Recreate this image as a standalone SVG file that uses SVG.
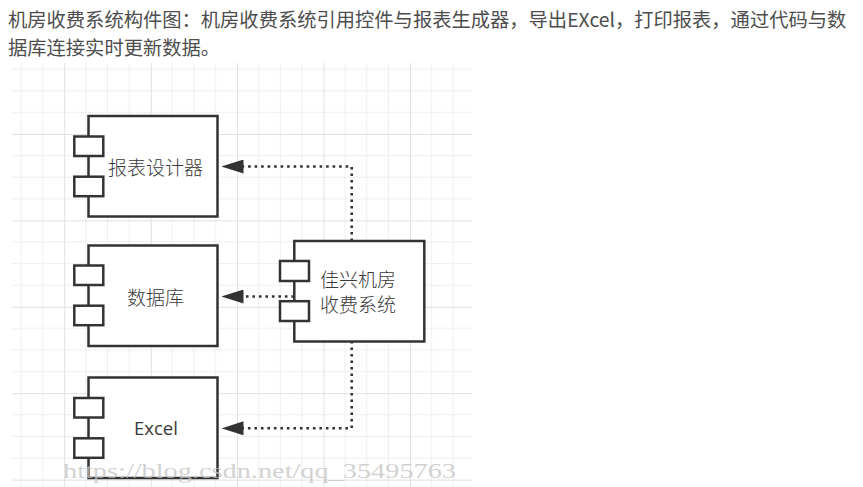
<svg xmlns="http://www.w3.org/2000/svg" width="863" height="487" viewBox="0 0 863 487">
<defs>
<style>
.hd{font-family:"Noto Sans CJK SC","Noto Sans",sans-serif;font-size:19.3px;fill:#4d4d4d}
.lb{font-family:"Noto Sans CJK SC","Noto Sans",sans-serif;font-size:19px;font-weight:300;fill:#3a3a3a;text-anchor:middle}
.lbl{font-family:"Open Sans","Noto Sans",sans-serif;font-size:18.5px;fill:#3a3a3a;text-anchor:middle}
.box{fill:#fff;stroke:#333;stroke-width:2.5}
.dot{fill:none;stroke:#333;stroke-width:2.6;stroke-dasharray:2.6 3.9}
.wm{font-family:"Liberation Serif",serif;font-size:22px;fill:#c4c4c4;opacity:0.75}
</style>
<pattern id="grid" patternUnits="userSpaceOnUse" x="64.3" y="134" width="86.4" height="86.4">
<path d="M21.6 0V86.4M43.2 0V86.4M64.8 0V86.4M0 21.6H86.4M0 43.2H86.4M0 64.8H86.4" stroke="#eeeeee" stroke-width="1" fill="none"/>
<path d="M0.5 0V86.4M0 0.5H86.4" stroke="#e0e0e0" stroke-width="1" fill="none"/>
</pattern>
<marker id="arr" viewBox="0 0 22 14" refX="22" refY="7" markerWidth="22" markerHeight="14" markerUnits="userSpaceOnUse" orient="auto">
<path d="M0 0L22 7L0 14Z" fill="#333"/>
</marker>
</defs>
<rect width="863" height="487" fill="#fff"/>
<text class="hd" x="8" y="27">机房收费系统构件图：机房收费系统引用控件与报表生成器，导出EXcel，打印报表，通过代码与数</text>
<text class="hd" x="8" y="55">据库连接实时更新数据。</text>
<rect x="12" y="63" width="460" height="424" fill="url(#grid)"/>
<g id="connectors">
<path class="dot" d="M351.7 241V166.5H243"/>
<path class="dot" d="M294 296.5H243"/>
<path class="dot" d="M351.7 341V428.3H243"/>
<path d="M243 166.5L221.5 166.5" fill="none" stroke="#333" stroke-width="0.01" marker-end="url(#arr)"/>
<path d="M243 296.5L221.5 296.5" fill="none" stroke="#333" stroke-width="0.01" marker-end="url(#arr)"/>
<path d="M243 428.3L221.5 428.3" fill="none" stroke="#333" stroke-width="0.01" marker-end="url(#arr)"/>
</g>
<g id="node-report">
<rect class="box" x="88.5" y="116" width="129" height="100.5"/>
<rect class="box" x="74.3" y="136.5" width="29" height="19.5"/>
<rect class="box" x="74.3" y="176.7" width="29" height="19.5"/>
<text class="lb" x="155.5" y="174.5">报表设计器</text>
</g>
<g id="node-db">
<rect class="box" x="88.5" y="245.5" width="129" height="100.5"/>
<rect class="box" x="74.3" y="265.5" width="29" height="19.5"/>
<rect class="box" x="74.3" y="305.7" width="29" height="19.5"/>
<text class="lb" x="155.5" y="304.7">数据库</text>
</g>
<g id="node-excel">
<rect class="box" x="88.5" y="377.5" width="129" height="100.5"/>
<rect class="box" x="74.3" y="398" width="29" height="19.5"/>
<rect class="box" x="74.3" y="438.3" width="29" height="19.5"/>
<text class="lbl" x="156" y="435.3">Excel</text>
</g>
<g id="node-system">
<rect class="box" x="294.3" y="241" width="130" height="100.5"/>
<rect class="box" x="280" y="261" width="29" height="20"/>
<rect class="box" x="280" y="301.2" width="29" height="19.8"/>
<text class="lb" x="358" y="287">佳兴机房</text>
<text class="lb" x="358" y="312">收费系统</text>
</g>
<text class="wm" x="63" y="478" textLength="393" lengthAdjust="spacingAndGlyphs">https://blog.csdn.net/qq_35495763</text>
</svg>
